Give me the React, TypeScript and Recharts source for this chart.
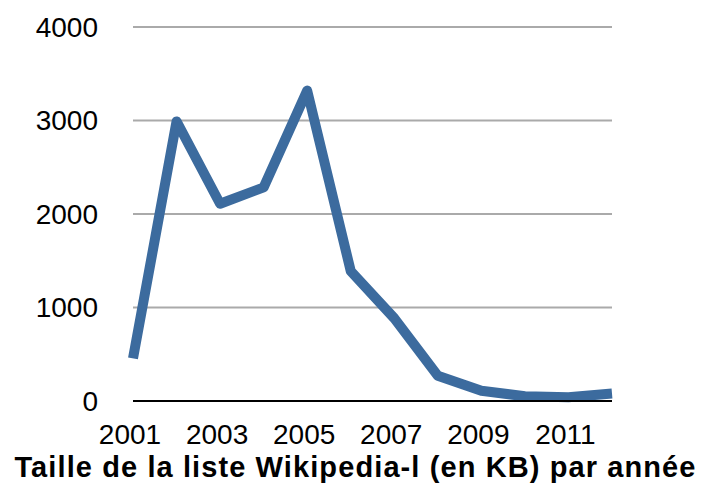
import React from 'react'
import { LineChart, Line, XAxis, YAxis, CartesianGrid } from 'recharts'

const years = [2001, 2002, 2003, 2004, 2005, 2006, 2007, 2008, 2009, 2010, 2011, 2012]
const sizes = [455, 2990, 2110, 2285, 3320, 1390, 885, 270, 110, 50, 40, 80]
const xTicks = [2001, 2003, 2005, 2007, 2009, 2011]
const yTicks = [0, 1000, 2000, 3000, 4000]
const title = 'Taille de la liste Wikipedia-l (en KB) par année'

const data = years.map((y, i) => ({ year: y, size: sizes[i] }))

const font = '"Liberation Sans", Arial, Helvetica, sans-serif'

export default function App() {
  return (
    <div style={{ position: 'absolute', left: 0, top: 0, width: 711, height: 485, background: '#fff', fontFamily: font }}>
      <LineChart width={711} height={485} data={data} margin={{ top: 27, right: 99, bottom: 0, left: 0 }}>
        <CartesianGrid horizontal vertical={false} stroke="#aaaaaa" strokeWidth={2} />
        <XAxis
          dataKey="year"
          type="number"
          domain={[2001, 2012]}
          ticks={xTicks}
          interval={0}
          tickSize={0}
          tickMargin={23}
          height={84}
          axisLine={{ stroke: '#000', strokeWidth: 2 }}
          tick={{ fill: '#000', fontSize: 28, fontFamily: font, dx: -3 }}
        />
        <YAxis
          type="number"
          domain={[0, 4000]}
          ticks={yTicks}
          interval={0}
          width={133}
          tickSize={0}
          tickMargin={35}
          axisLine={false}
          tickLine={false}
          tick={{ fill: '#000', fontSize: 28, fontFamily: font }}
        />
        <Line
          dataKey="size"
          type="linear"
          stroke="#3c6b9e"
          strokeWidth={10}
          strokeLinejoin="round"
          dot={false}
          activeDot={false}
          isAnimationActive={false}
        />
      </LineChart>
      <div style={{ position: 'absolute', left: 0, top: 451, width: 711, textAlign: 'center', fontSize: 29, letterSpacing: 1.1, fontWeight: 'bold', color: '#000', whiteSpace: 'nowrap' }}>
        {title}
      </div>
    </div>
  )
}
